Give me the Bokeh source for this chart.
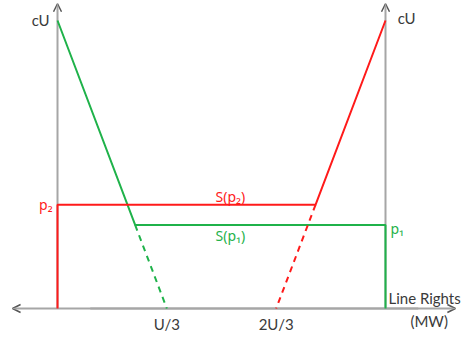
from bokeh.plotting import figure
from bokeh.models import Arrow, OpenHead, Range1d
from bokeh.core.properties import value
from bokeh.embed import file_html
from bokeh.resources import INLINE

# ---- data (x in units of U, y in units of cU) ----
U = 1.0
cU = 1.0
p1 = 0.29
p2 = 0.36
tick_pos = [U / 3, 2 * U / 3]
tick_labels = ["U/3", "2U/3"]

GREEN = "#1fb24a"
RED = "#ff1a1a"
GRAY = "#a6a6a6"
DARK = "#3a3a3a"
FONT = "Lato"
SUBFONT = "Noto Sans"
FS = "15px"

# green: from (0, cU) to (U/3, 0); kink where y = p1
xg = (cU - p1) / (3 * cU) * U
# red: from (2U/3, 0) to (U, cU); kink where y = p2
xr = (2 * U / 3) + p2 / (3 * cU) * U

p = figure(width=465, height=337, output_backend="svg", toolbar_location=None,
           x_range=Range1d(-0.1738, 1.2439), y_range=Range1d(-0.1007, 1.0694),
           min_border=0, min_border_left=0, min_border_right=0,
           min_border_top=0, min_border_bottom=0)
p.axis.visible = False
p.grid.visible = False
p.outline_line_color = None
p.background_fill_color = "white"

head = dict(size=8, line_color="#555555", line_width=1.5)
for xs, ys, xe, ye in [(1.10, 0, -0.137, 0), (0.1, 0, 1.213, 0),
                       (0, 0, 0, 1.058), (U, 0, U, 1.058)]:
    p.add_layout(Arrow(x_start=xs, y_start=ys, x_end=xe, y_end=ye, line_color=GRAY,
                       line_width=2, end=OpenHead(**head), level="underlay"))

# green S(p1)
p.line([0, xg, U, U], [cU, p1, p1, 0], line_color=GREEN, line_width=2)
p.line([xg, U / 3], [p1, 0], line_color=GREEN, line_width=2, line_dash="6 5")
# red S(p2)
p.line([0, 0, xr, U], [0, p2, p2, cU], line_color=RED, line_width=2)
p.line([xr, 2 * U / 3], [p2, 0], line_color=RED, line_width=2, line_dash="6 5")

def lbl(x, y, t, color, align="left", baseline="middle", font=FONT, fs=FS):
    p.text([x], [y], text=[t], text_color=color, text_font=value(font),
           text_font_size=fs, text_align=align, text_baseline=baseline)

lbl(-0.024, cU, "cU", DARK, "right")
lbl(U + 0.037, cU + 0.007, "cU", DARK)
lbl(-0.015, p2, "p₂", RED, "right", font=SUBFONT, fs="14px")
lbl(U + 0.015, p1 - 0.012, "p₁", GREEN, font=SUBFONT, fs="14px")
lbl(0.527, p2 + 0.03, "S(p₂)", RED, "center", font=SUBFONT, fs="14px")
lbl(0.527, p1 - 0.035, "S(p₁)", GREEN, "center", font=SUBFONT, fs="14px")
p.text(tick_pos, [-0.022] * 2, text=tick_labels, text_color=DARK, text_font=value(FONT),
       text_font_size=FS, text_align="center", text_baseline="top")
lbl(U + 0.009, 0.038, "Line Rights", DARK)
lbl(U + 0.076, -0.045, "(MW)", DARK)

open("out.html", "w").write(file_html(p, INLINE))
